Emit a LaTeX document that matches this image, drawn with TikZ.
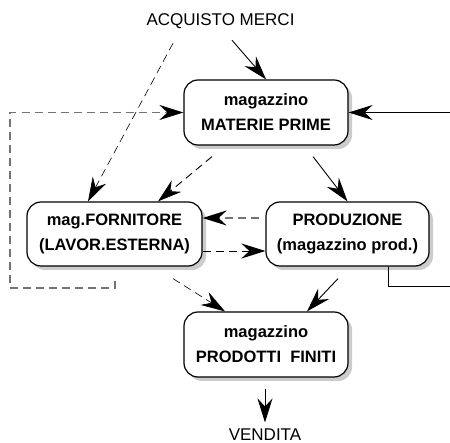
\documentclass[tikz,border=0pt]{standalone}
\usepackage{fontspec}
\setmainfont{Liberation Sans}
\usetikzlibrary{arrows.meta,shadows,calc}

\begin{document}
\begin{tikzpicture}[x=1pt, y=-1pt,
magnode/.style={rectangle, draw=black, fill=white, line width=1.2pt, rounded corners=14pt, align=center, font=\fontsize{16.5}{25}\selectfont\bfseries, inner sep=0pt, drop shadow={shadow xshift=4pt, shadow yshift=-4pt, fill=black!40}},
txtnode/.style={font=\fontsize{17}{20}\selectfont, inner sep=0pt},
flow/.style={draw=black, line width=0.9pt, -{Stealth[length=24pt, width=15pt, inset=8pt, color=black]}},
dflow/.style={flow, dash pattern=on 8pt off 5pt},]

\useasboundingbox (0,0) rectangle (450,443);

\node (acq) [txtnode] at (220.5, 21.5) {ACQUISTO MERCI};

\node (mp) [magnode, minimum width=164pt, minimum height=65pt] at (266, 112.5) {magazzino\\MATERIE PRIME};

\node (forn) [magnode, minimum width=175pt, minimum height=64pt] at (114.5, 234) {mag.FORNITORE\\(LAVOR.ESTERNA)};

\node (prod) [magnode, minimum width=163pt, minimum height=64pt] at (347.5, 234) {PRODUZIONE\\(magazzino prod.)};

\node (pf) [magnode, minimum width=164pt, minimum height=65pt] at (266, 344.5) {magazzino\\PRODOTTI\ \ FINITI};

\node (vend) [txtnode] at (265, 434.5) {VENDITA};

\coordinate (rin) at (450, 112.5);
\coordinate (rout) at (450, 286);
\coordinate (lp) at (115, 281);
\coordinate (lpl) at (10, 288);

\draw[flow] ($(acq.south)+(11.5,11)$) -- (mp.north);
\draw[dflow, line width=0.6pt] ($(acq.south)+(-47.5,14)$) -- ([xshift=-26.5pt]forn.north);
\draw[dflow] ($(mp.south)+(-54,11)$) -- ($(forn.north)+(43.5,0)$);
\draw[flow] ($(mp.south)+(47,11)$) -- (prod.north);
\draw[flow] (rin) -- (mp.east);
\draw[dflow, draw=black!55, line width=1.2pt] (lp) |- (lpl) |- (mp.west);

\draw[dflow, draw=black!55, line width=1.2pt] ($(prod.west)+(-6,-16)$) -- ($(forn.east)+(0,-16)$);
\draw[dflow] ($(forn.east)+(0,17)$) -- ($(prod.west)+(0,17)$);
\draw[dflow, line width=0.6pt] ($(forn.south)+(58.5,12)$) -- ($(pf.north)+(-41,0)$);
\draw[flow] ($(prod.south)+(-9.5,12)$) -- ($(pf.north)+(41,0)$);
\draw[flow] ($(pf.south)+(-1,11)$) -- ($(vend.north)+(0,-6)$);
\draw[draw=black, line width=0.9pt] ($(prod.south)+(40.5,0)$) |- (rout);

\end{tikzpicture}
\end{document}
